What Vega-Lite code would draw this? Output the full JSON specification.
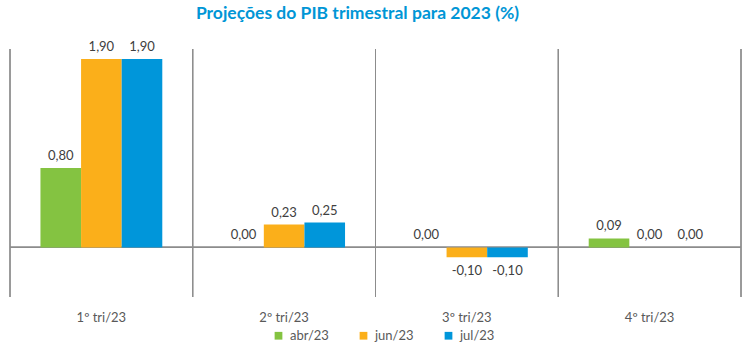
{
  "$schema": "https://vega.github.io/schema/vega-lite/v6.json",
  "autosize": {"type": "none"},
  "width": 731,
  "height": 248,
  "padding": {"left": 10, "top": 49, "right": 9, "bottom": 58},
  "config": {
    "locale": {"number": {"decimal": ",", "thousands": ".", "grouping": [3], "currency": ["R$", ""], "minus": "-"}},
    "view": {"stroke": null},
    "font": "Lato"
  },
  "title": {
    "text": "Projeções do PIB trimestral para 2023 (%)",
    "font": "Lato",
    "fontSize": 17.5,
    "fontWeight": "bold",
    "color": "#0096D6",
    "offset": 18,
    "dx": -18
  },
  "data": {
    "values": [
      {"q": "1º tri/23", "s": "abr/23", "v": 0.80},
      {"q": "1º tri/23", "s": "jun/23", "v": 1.90},
      {"q": "1º tri/23", "s": "jul/23", "v": 1.90},
      {"q": "2º tri/23", "s": "abr/23", "v": 0.00},
      {"q": "2º tri/23", "s": "jun/23", "v": 0.23},
      {"q": "2º tri/23", "s": "jul/23", "v": 0.25},
      {"q": "3º tri/23", "s": "abr/23", "v": 0.00},
      {"q": "3º tri/23", "s": "jun/23", "v": -0.10},
      {"q": "3º tri/23", "s": "jul/23", "v": -0.10},
      {"q": "4º tri/23", "s": "abr/23", "v": 0.09},
      {"q": "4º tri/23", "s": "jun/23", "v": 0.00},
      {"q": "4º tri/23", "s": "jul/23", "v": 0.00}
    ]
  },
  "resolve": {"scale": {"x": "independent"}, "axis": {"x": "independent"}},
  "layer": [
    {
      "layer": [
        {
          "mark": {"type": "rule", "color": "#8C8C8C", "strokeWidth": 1},
          "encoding": {
            "x": {"field": "q", "type": "nominal", "bandPosition": 0, "axis": null, "scale": {"paddingInner": 0, "paddingOuter": 0}}
          }
        },
        {
          "transform": [{"filter": "datum.q === '4º tri/23'"}],
          "mark": {"type": "rule", "color": "#8C8C8C", "strokeWidth": 1},
          "encoding": {
            "x": {"field": "q", "type": "nominal", "bandPosition": 1, "axis": null}
          }
        }
      ]
    },
    {
      "layer": [
        {
          "mark": {"type": "rule", "color": "#8C8C8C", "strokeWidth": 1},
          "encoding": {
            "y": {"datum": 0, "type": "quantitative", "scale": {"domain": [-0.5, 2], "nice": false}, "axis": null}
          }
        },
        {
          "mark": {"type": "bar"},
          "encoding": {
            "x": {"field": "q", "type": "nominal", "scale": {"paddingInner": 0, "paddingOuter": 0}, "axis": {"title": null, "domain": false, "ticks": false, "labelAngle": 0, "labelPadding": 14, "labelFontSize": 13, "labelColor": "#595959", "labelFont": "Lato"}},
            "xOffset": {"field": "s", "type": "nominal", "scale": {"domain": ["abr/23", "jun/23", "jul/23"], "paddingOuter": 0.75, "paddingInner": 0}},
            "y": {"field": "v", "type": "quantitative", "scale": {"domain": [-0.5, 2], "nice": false}, "axis": null},
            "color": {
              "field": "s", "type": "nominal",
              "scale": {"domain": ["abr/23", "jun/23", "jul/23"], "range": ["#84C341", "#FBAF1A", "#0096DA"]},
              "legend": {"title": null, "orient": "none", "direction": "horizontal", "legendX": 262, "legendY": 280, "symbolType": "square", "symbolSize": 60, "symbolStrokeWidth": 0, "labelFontSize": 13, "labelColor": "#595959", "labelFont": "Lato", "columnPadding": 28, "labelOffset": 5}
            }
          }
        },
        {
          "transform": [{"filter": "datum.v >= 0"}],
          "mark": {"type": "text", "baseline": "bottom", "dy": -5, "fontSize": 13, "color": "#404040", "font": "Lato"},
          "encoding": {
            "x": {"field": "q", "type": "nominal"},
            "xOffset": {"field": "s", "type": "nominal"},
            "y": {"field": "v", "type": "quantitative", "axis": null},
            "text": {"field": "v", "type": "quantitative", "format": ".2f"}
          }
        },
        {
          "transform": [{"filter": "datum.v < 0"}],
          "mark": {"type": "text", "baseline": "top", "dy": 8, "fontSize": 13, "color": "#404040", "font": "Lato"},
          "encoding": {
            "x": {"field": "q", "type": "nominal"},
            "xOffset": {"field": "s", "type": "nominal"},
            "y": {"field": "v", "type": "quantitative", "axis": null},
            "text": {"field": "v", "type": "quantitative", "format": ".2f"}
          }
        }
      ]
    }
  ]
}
